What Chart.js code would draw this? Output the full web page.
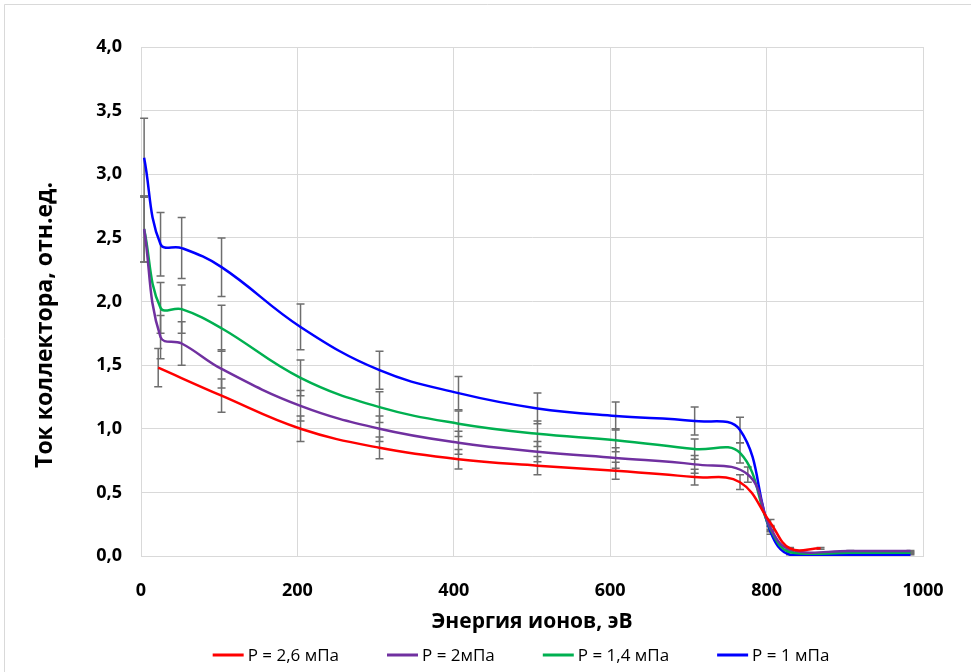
<!DOCTYPE html>
<html>
<head>
<meta charset="utf-8">
<script src="https://cdn.jsdelivr.net/npm/chart.js@4/dist/chart.umd.min.js"></script>
<style>
html,body{margin:0;padding:0;background:#fff;}
#wrap{position:relative;width:971px;height:672px;}
</style>
</head>
<body>
<div id="wrap"><canvas id="c" width="971" height="672"></canvas></div>
<script>
// ---- data ----
const seriesNames = ['P = 2,6 мПа', 'P = 2мПа', 'P = 1,4 мПа', 'P = 1 мПа'];
const seriesColors = ['#ff0000', '#7030a0', '#00b050', '#0000ff'];

const redX   = [22, 103, 204, 305, 406, 507, 607, 708, 766, 805, 830, 869];
const redY   = [1.48, 1.26, 1.00, 0.85, 0.76, 0.71, 0.67, 0.62, 0.58, 0.26, 0.06, 0.06];
const redErr = [0.15, 0.13, 0.10, 0.085, 0.076, 0.071, 0.067, 0.062, 0.058, 0.026, 0.006, 0.006];

const purpleX   = [4, 25, 52, 103, 204, 305, 406, 507, 607, 708, 776, 805, 830, 907, 984];
const purpleY   = [2.57, 1.72, 1.67, 1.47, 1.18, 1.00, 0.89, 0.82, 0.77, 0.72, 0.64, 0.22, 0.05, 0.04, 0.04];
const purpleErr = [0.26, 0.17, 0.17, 0.15, 0.12, 0.10, 0.09, 0.08, 0.08, 0.07, 0.06, 0.02, 0.005, 0.004, 0.004];

const greenX   = [4, 25, 52, 103, 204, 305, 406, 507, 607, 708, 766, 805, 830, 907, 984];
const greenY   = [2.57, 1.95, 1.94, 1.79, 1.40, 1.17, 1.04, 0.96, 0.91, 0.84, 0.81, 0.21, 0.03, 0.025, 0.025];
const greenErr = [0.26, 0.20, 0.19, 0.18, 0.14, 0.12, 0.10, 0.10, 0.09, 0.08, 0.08, 0.02, 0.003, 0.003, 0.003];

const blueX   = [4, 25, 52, 103, 204, 305, 406, 507, 607, 708, 766, 805, 830, 907, 984];
const blueY   = [3.13, 2.45, 2.42, 2.27, 1.80, 1.46, 1.28, 1.16, 1.10, 1.06, 0.99, 0.19, 0.01, 0.01, 0.01];
const blueErr = [0.31, 0.25, 0.24, 0.23, 0.18, 0.15, 0.13, 0.12, 0.11, 0.11, 0.10, 0.02, 0.001, 0.001, 0.001];

const xTitle = 'Энергия ионов, эВ';
const yTitle = 'Ток коллектора, отн.ед.';
const xMin = 0, xMax = 1000, xStep = 200;
const yMin = 0, yMax = 4, yStep = 0.5;

// ---- build datasets ----
const xs = [redX, purpleX, greenX, blueX];
const ys = [redY, purpleY, greenY, blueY];
const errs = [redErr, purpleErr, greenErr, blueErr];

const datasets = seriesNames.map((name, k) => ({
  label: name,
  data: xs[k].map((xv, i) => ({x: xv, y: ys[k][i]})),
  errors: errs[k],
  borderColor: seriesColors[k],
  backgroundColor: seriesColors[k],
  borderWidth: 2.5,
  pointRadius: 0,
  tension: 0.4,
  showLine: true,
  fill: false
}));

const FONT = "'Open Sans', 'Liberation Sans', sans-serif";

const errorBarPlugin = {
  id: 'errorBars',
  beforeDatasetsDraw(chart) {
    const ctx = chart.ctx;
    const xs_ = chart.scales.x, ys_ = chart.scales.y;
    ctx.save();
    ctx.strokeStyle = '#6e6e6e';
    ctx.lineWidth = 1.5;
    chart.data.datasets.forEach(ds => {
      ds.data.forEach((p, i) => {
        const e = ds.errors[i];
        const px = xs_.getPixelForValue(p.x);
        const t = ys_.getPixelForValue(p.y + e);
        const b = ys_.getPixelForValue(p.y - e);
        ctx.beginPath();
        ctx.moveTo(px, t); ctx.lineTo(px, b);
        ctx.moveTo(px - 4, t); ctx.lineTo(px + 4, t);
        ctx.moveTo(px - 4, b); ctx.lineTo(px + 4, b);
        ctx.stroke();
      });
    });
    ctx.restore();
  }
};

const framePlugin = {
  id: 'frame',
  beforeDraw(chart) {
    const ctx = chart.ctx;
    ctx.save();
    ctx.fillStyle = '#fff';
    ctx.fillRect(0, 0, chart.width, chart.height);
    ctx.strokeStyle = '#d9d9d9';
    ctx.lineWidth = 1;
    ctx.beginPath();
    ctx.moveTo(4.5, chart.height);
    ctx.lineTo(4.5, 4.5);
    ctx.lineTo(chart.width, 4.5);
    ctx.stroke();
    ctx.restore();
  },
  afterDraw(chart) {
    const ctx = chart.ctx;
    ctx.save();
    // y axis title
    ctx.translate(45, 325);
    ctx.rotate(-Math.PI / 2);
    ctx.fillStyle = '#000';
    ctx.font = "bold 23px " + FONT;
    ctx.textAlign = 'center';
    ctx.textBaseline = 'middle';
    ctx.fillText(yTitle, 0, 0);
    ctx.restore();

    // legend
    ctx.save();
    ctx.font = "17px " + FONT;
    ctx.textBaseline = 'middle';
    ctx.textAlign = 'left';
    const lineLen = 31, gapLT = 4, gapItems = 48;
    const dsets = chart.data.datasets;
    const widths = dsets.map(d => lineLen + gapLT + ctx.measureText(d.label).width);
    const total = widths.reduce((a, b) => a + b, 0) + gapItems * (dsets.length - 1);
    let x0 = 521 - total / 2;
    const yL = 655;
    dsets.forEach((d, i) => {
      ctx.strokeStyle = d.borderColor;
      ctx.lineWidth = 3;
      ctx.beginPath();
      ctx.moveTo(x0, yL); ctx.lineTo(x0 + lineLen, yL);
      ctx.stroke();
      ctx.fillStyle = '#000';
      ctx.fillText(d.label, x0 + lineLen + gapLT, yL + 1);
      x0 += widths[i] + gapItems;
    });
    ctx.restore();
  }
};

new Chart(document.getElementById('c'), {
  type: 'scatter',
  data: { datasets },
  plugins: [framePlugin, errorBarPlugin],
  options: {
    responsive: false,
    animation: false,
    layout: { padding: { left: 0, right: 48, top: 47, bottom: 37 } },
    plugins: {
      legend: { display: false },
      tooltip: { enabled: false }
    },
    scales: {
      x: {
        type: 'linear',
        min: xMin, max: xMax,
        ticks: { stepSize: xStep, color: '#000', font: { family: FONT, size: 18, weight: 'bold' }, padding: 24,
                 callback: v => String(v) },
        grid: { color: '#d9d9d9', lineWidth: 1, drawTicks: false },
        border: { color: '#d9d9d9' },
        title: { display: true, text: xTitle, color: '#000', font: { family: FONT, size: 21, weight: 'bold' }, padding: { top: 0, bottom: 0 } },
        afterFit(s) { s.height = 79; }
      },
      y: {
        type: 'linear',
        min: yMin, max: yMax,
        ticks: {
          stepSize: yStep, color: '#000', padding: 19,
          font: { family: FONT, size: 18, weight: 'bold' },
          callback: v => v.toFixed(1).replace('.', ',')
        },
        grid: { color: '#d9d9d9', lineWidth: 1, drawTicks: false },
        border: { color: '#d9d9d9' },
        title: { display: false },
        afterFit(s) { s.width = 141; }
      }
    }
  }
});
</script>
</body>
</html>
